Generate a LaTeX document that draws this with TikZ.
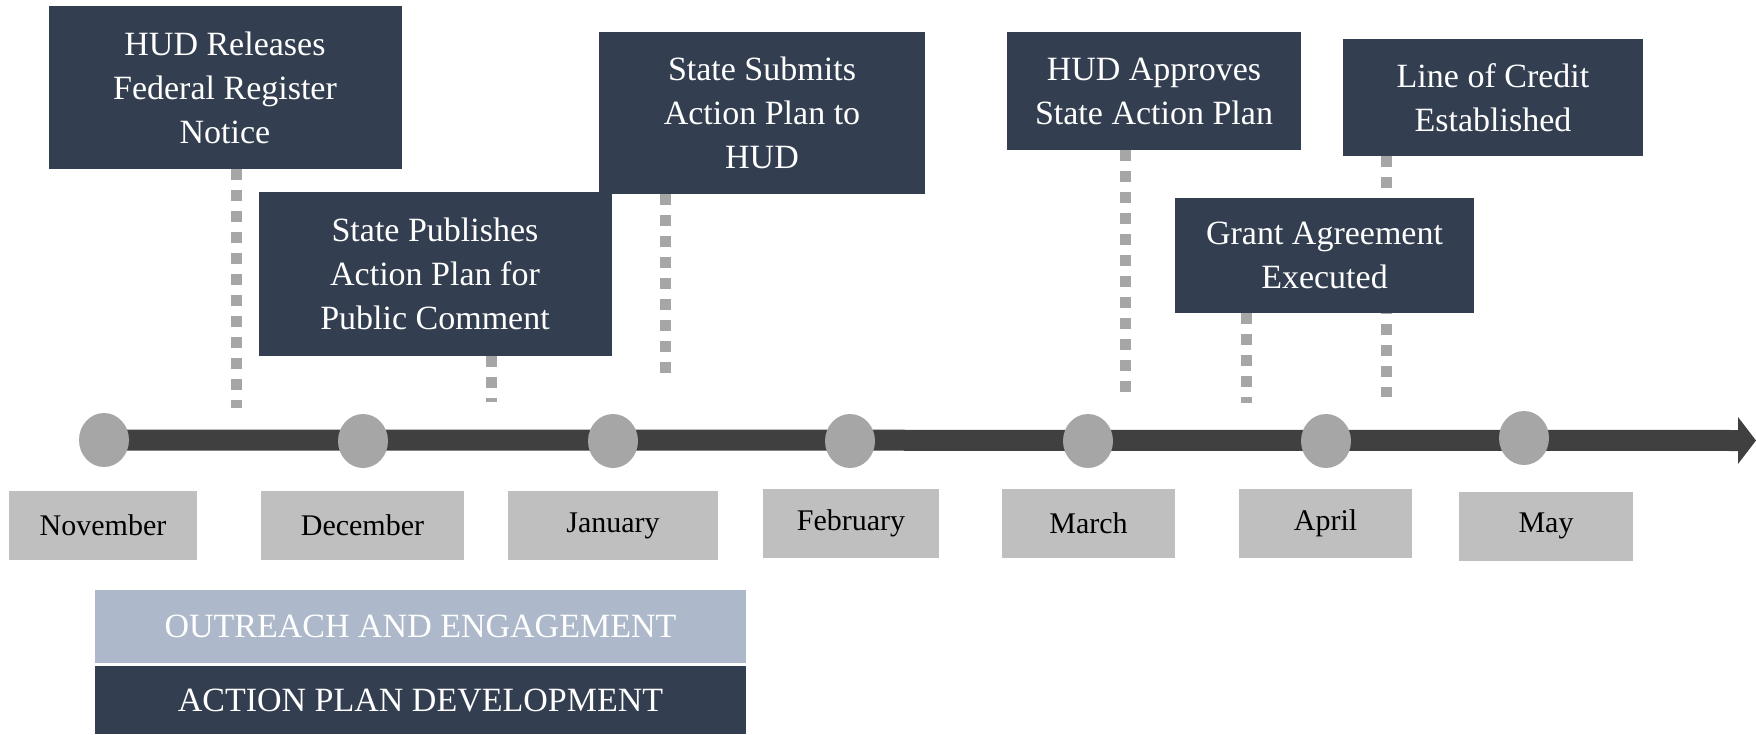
\documentclass[tikz,border=0pt]{standalone}
\usepackage{fontspec}
\setmainfont{Liberation Serif}
\newfontfamily\timesfont{Liberation Serif}
\usetikzlibrary{arrows.meta,backgrounds,shapes.geometric}
\definecolor{navy}{HTML}{333F50}
\definecolor{paleblue}{HTML}{ADB9CA}
\definecolor{monthgray}{HTML}{BFBFBF}
\definecolor{dotgray}{HTML}{A6A6A6}
\definecolor{bargray}{HTML}{404040}

\begin{document}
\begin{tikzpicture}[x=0.5pt,y=-0.5pt,
    event/.style={fill=navy,text=white,align=center,inner sep=0pt,font=\timesfont\fontsize{17}{22}\selectfont},
    month/.style={fill=monthgray,inner sep=0pt,minimum height=34.5pt,font=\timesfont\fontsize{15}{18}\selectfont},
    phase/.style={inner sep=0pt,minimum width=325.5pt,text=white,font=\timesfont\fontsize{17}{22}\selectfont},
    dot/.style={ellipse,fill=dotgray,inner sep=0pt,minimum width=25pt,minimum height=27pt},
    leader/.style={dotgray,line width=5.5pt,dash pattern=on 5.5pt off 5pt},
    bar/.style={bargray,line width=10.5pt,-{Triangle[length=9pt,width=23pt]}}]
    \useasboundingbox (0,0) rectangle (1756,734);

    % milestones
    \node[event,minimum width=176.5pt,minimum height=81.5pt] (releases) at (225,87.5) {HUD Releases\\Federal Register\\Notice};
    \node[event,minimum width=176.5pt,minimum height=82pt] (publishes) at (435,274) {State Publishes\\Action Plan for\\Public Comment};
    \node[event,minimum width=163pt,minimum height=81pt] (submits) at (762,113) {State Submits\\Action Plan to\\HUD};
    \node[event,minimum width=147pt,minimum height=59pt] (approves) at (1154,91) {HUD Approves\\State Action Plan};
    \node[event,minimum width=150pt,minimum height=58.5pt] (credit) at (1493,97.5) {Line of Credit\\Established};
    \node[event,minimum width=149.5pt,minimum height=57.5pt] (grant) at (1324.5,255.5) {Grant Agreement\\Executed};

    % timeline
    \node[dot] (nov) at (104,440) {};
    \node[dot] (dec) at (363,441) {};
    \node[dot] (jan) at (613,441) {};
    \node[dot] (feb) at (850,441) {};
    \node[dot] (mar) at (1088,441) {};
    \node[dot] (apr) at (1326,441) {};
    \node[dot] (may) at (1524,438) {};
    \coordinate (tip) at (1756,440.5);

    \node[month,minimum width=94pt] (novlabel) at (103,525.5) {November};
    \node[month,minimum width=101.5pt] (declabel) at (362.5,525.5) {December};
    \node[month,minimum width=105pt] (janlabel) at (613,525.5) {January};
    \node[month,minimum width=88pt] (feblabel) at (851,523.5) {February};
    \node[month,minimum width=86.5pt] (marlabel) at (1088.5,523.5) {March};
    \node[month,minimum width=86.5pt] (aprlabel) at (1325.5,523.5) {April};
    \node[month,minimum width=87pt] (maylabel) at (1546,526) {May};

    % phases
    \node[phase,fill=paleblue,minimum height=36.5pt] (outreach) at (420.5,626.5) {OUTREACH AND ENGAGEMENT};
    \node[phase,fill=navy,minimum height=34pt] (development) at (420.5,700) {ACTION PLAN DEVELOPMENT};

    % leaders
    \coordinate (l1) at (236.5,408);
    \coordinate (l2) at (491,402);
    \coordinate (l3) at (665.5,383);
    \coordinate (l4) at (1125,397);
    \coordinate (l5) at (1386,397);
    \coordinate (l6) at (1246,403);
    \begin{scope}[on background layer]
        \draw[bar] (nov.center) -- (tip);
        \draw[leader] (releases.south -| l1) -- (l1);
        \draw[leader] (publishes.south -| l2) -- (l2);
        \draw[leader] (submits.south -| l3) -- (l3);
        \draw[leader] (approves.south -| l4) -- (l4);
        \draw[leader] (credit.south -| l5) -- (l5);
        \draw[leader] (grant.south -| l6) -- (l6);
    \end{scope}
\end{tikzpicture}
\end{document}
